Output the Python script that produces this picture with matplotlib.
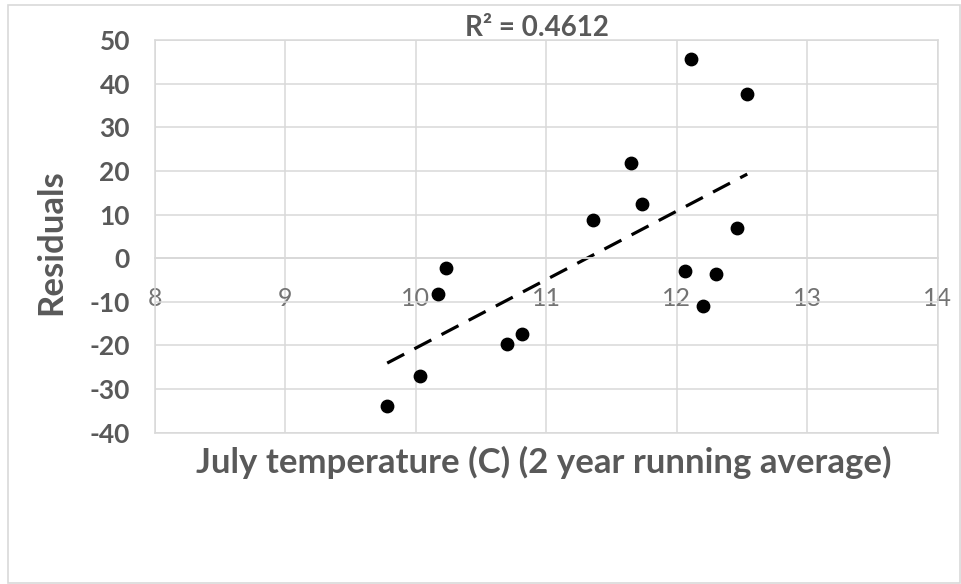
import numpy as np
import matplotlib
matplotlib.use("Agg")
import matplotlib.pyplot as plt
from matplotlib.patches import Rectangle

# July temperature (C), 2 year running average, vs residuals
july_temp = [9.78, 10.03, 10.17, 10.23, 10.70, 10.81, 11.36, 11.65,
             11.73, 12.06, 12.11, 12.20, 12.30, 12.46, 12.54]
residuals = [-33.9, -27.0, -8.1, -2.3, -19.6, -17.3, 8.7, 21.7,
             12.4, -2.9, 45.6, -11.0, -3.7, 6.8, 37.6]
x_ticks = [8, 9, 10, 11, 12, 13, 14]
y_ticks = [-40, -30, -20, -10, 0, 10, 20, 30, 40, 50]
r2_text = "R² = 0.4612"

plt.rcParams['font.family'] = ['Lato', 'DejaVu Sans']
plt.rcParams['axes.unicode_minus'] = False
grid_c = '#d9d9d9'
text_c = '#595959'

fig = plt.figure(figsize=(9.61, 5.84), dpi=100)
fig.patches.append(Rectangle((8/961, 0.002), 952/961, 1 - 5/584 - 0.002,
                             transform=fig.transFigure, fill=False,
                             edgecolor=grid_c, lw=1.2))
ax = fig.add_axes([155/961, 1 - 432.7/584, 782.7/961, 392.7/584])

ax.set_xlim(8, 14)
ax.set_ylim(-40, 50)
ax.set_xticks(x_ticks)
ax.set_yticks(y_ticks)
ax.grid(True, color=grid_c, lw=1.1)
ax.set_axisbelow(True)
ax.axhline(-40, color=grid_c, lw=1.1, clip_on=False, zorder=0)

for s in ['top', 'left', 'right']:
    ax.spines[s].set_color(grid_c)
    ax.spines[s].set_linewidth(1.1)
ax.spines['bottom'].set_position(('data', 0))
ax.spines['bottom'].set_color(grid_c)
ax.spines['bottom'].set_linewidth(1.3)

ax.tick_params(axis='both', length=0)
ax.tick_params(axis='x', pad=21, labelsize=18, labelcolor='#737373')
ax.tick_params(axis='y', pad=18, labelsize=19, labelcolor=text_c)
for lbl in ax.get_yticklabels():
    lbl.set_fontweight('bold')

ax.scatter(july_temp, residuals, s=80, color='black', zorder=3)

# linear trend line
k, b = np.polyfit(july_temp, residuals, 1)
xs = np.array([min(july_temp), max(july_temp)])
line, = ax.plot(xs, k * xs + b, color='black', lw=2.3, zorder=2)
line.set_dashes((6, 3.6))

fig.text(537/961, 1 - 28/584, r2_text, ha='center', va='center',
         fontsize=20, fontweight='bold', color=text_c)
fig.text(544/961, 1 - 462/584, "July temperature (C) (2 year running average)",
         ha='center', va='center', fontsize=25, fontweight='bold', color=text_c)
fig.text(51/961, 1 - 242/584, "Residuals", ha='center', va='center',
         rotation=90, fontsize=25, fontweight='bold', color=text_c)

fig.savefig('out.png', dpi=100)
